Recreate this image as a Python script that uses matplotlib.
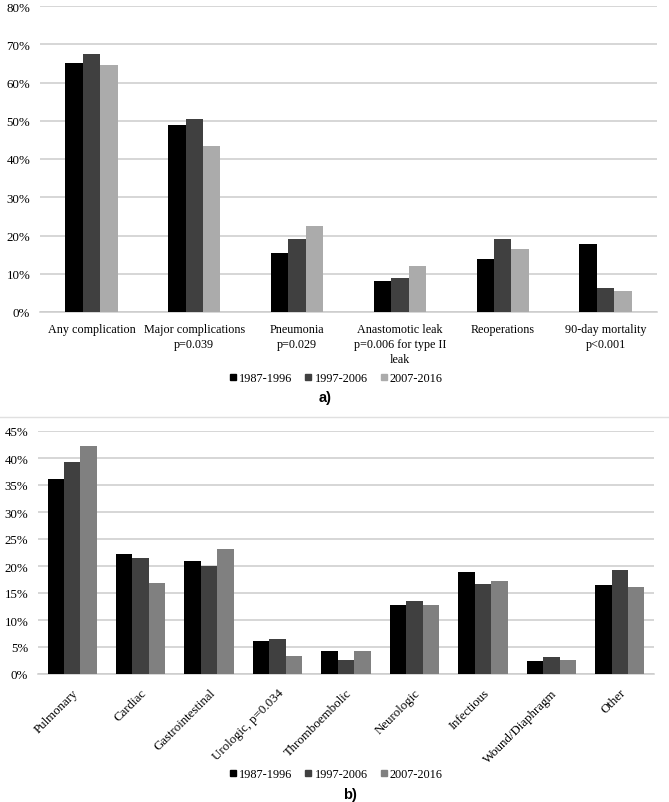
import numpy as np
import matplotlib
matplotlib.use("Agg")
import matplotlib.pyplot as plt
from matplotlib.ticker import PercentFormatter
from matplotlib.lines import Line2D

periods = ["1987-1996", "1997-2006", "2007-2016"]

# panel a)
cats_a = ["Any complication", "Major complications\np=0.039", "Pneumonia\np=0.029",
          "Anastomotic leak\np=0.006 for type II\nleak", "Reoperations", "90-day mortality\np<0.001"]
a_1987 = [65.0, 48.9, 15.5, 8.2, 13.8, 17.9]
a_1997 = [67.5, 50.5, 19.1, 8.9, 19.1, 6.3]
a_2007 = [64.7, 43.4, 22.5, 12.1, 16.5, 5.4]

# panel b)
cats_b = ["Pulmonary", "Cardiac", "Gastrointestinal", "Urologic, p=0.034", "Thromboembolic",
          "Neurologic", "Infectious", "Wound/Diaphragm", "Other"]
b_1987 = [36.2, 22.2, 21.0, 6.1, 4.3, 12.8, 18.8, 2.4, 16.4]
b_1997 = [39.3, 21.5, 20.0, 6.5, 2.6, 13.6, 16.7, 3.2, 19.3]
b_2007 = [42.2, 16.9, 23.1, 3.4, 4.3, 12.7, 17.2, 2.6, 16.1]

colors_a = ["#000000", "#404040", "#ababab"]
colors_b = ["#000000", "#404040", "#808080"]

plt.rcParams['font.family'] = ['Liberation Serif', 'DejaVu Serif']

fig = plt.figure(figsize=(6.69, 8.03), dpi=100)
W, H = 669, 803


def box(x0, y0, x1, y1):
    return [x0 / W, 1 - y1 / H, (x1 - x0) / W, (y1 - y0) / H]


def bars(ax, cats, series, colors, width):
    x = np.arange(len(cats))
    for i, (vals, c) in enumerate(zip(series, colors)):
        ax.bar(x + (i - 1) * width, vals, width, color=c, zorder=3)
    ax.set_xlim(-0.5, len(cats) - 0.5)
    ax.yaxis.set_major_formatter(PercentFormatter(decimals=0))
    ax.grid(axis='y', color='#cccccc', linewidth=1.1, zorder=0)
    for s in ['top', 'right', 'left']:
        ax.spines[s].set_visible(False)
    ax.spines['bottom'].set_color('#cccccc')
    ax.spines['bottom'].set_linewidth(1.1)
    ax.tick_params(length=0, labelsize=9.3, pad=7)
    return x


ax1 = fig.add_axes(box(40, 7, 657, 313))
x1 = bars(ax1, cats_a, [a_1987, a_1997, a_2007], colors_a, 0.17)
ax1.set_ylim(0, 80)
ax1.set_yticks(np.arange(0, 81, 10))
ax1.set_xticks(x1)
ax1.set_xticklabels(cats_a, fontsize=8.7, linespacing=1.3)
ax1.tick_params(axis='x', pad=8)

ax2 = fig.add_axes(box(38, 432, 654, 675))
x2 = bars(ax2, cats_b, [b_1987, b_1997, b_2007], colors_b, 0.24)
ax2.set_ylim(0, 45)
ax2.set_yticks(np.arange(0, 46, 5))
ax2.set_xticks(x2)
ax2.set_xticklabels(cats_b, fontsize=9.3, rotation=45, ha='right', rotation_mode='anchor')
ax2.tick_params(axis='x', pad=9)


def legend(colors, y):
    handles = [Line2D([], [], marker='s', linestyle='none', color=c, markersize=4.5) for c in colors]
    fig.legend(handles, periods, loc='center', bbox_to_anchor=(336 / W, 1 - y / H), ncol=3,
               frameon=False, fontsize=8.8, handletextpad=0.2, columnspacing=1.0,
               handlelength=0.6)


legend(colors_a, 379)
legend(colors_b, 775)

fig.text(325 / W, 1 - 398 / H, "a)", ha='center', va='center', fontsize=10.5,
         fontweight='bold', family=['Liberation Sans', 'DejaVu Sans'])
fig.text(350 / W, 1 - 795 / H, "b)", ha='center', va='center', fontsize=10.5,
         fontweight='bold', family=['Liberation Sans', 'DejaVu Sans'])

fig.add_artist(Line2D([0, 1], [1 - 418 / H, 1 - 418 / H], color='#e0e0e0', linewidth=1))

fig.savefig("out.png", dpi=100)
